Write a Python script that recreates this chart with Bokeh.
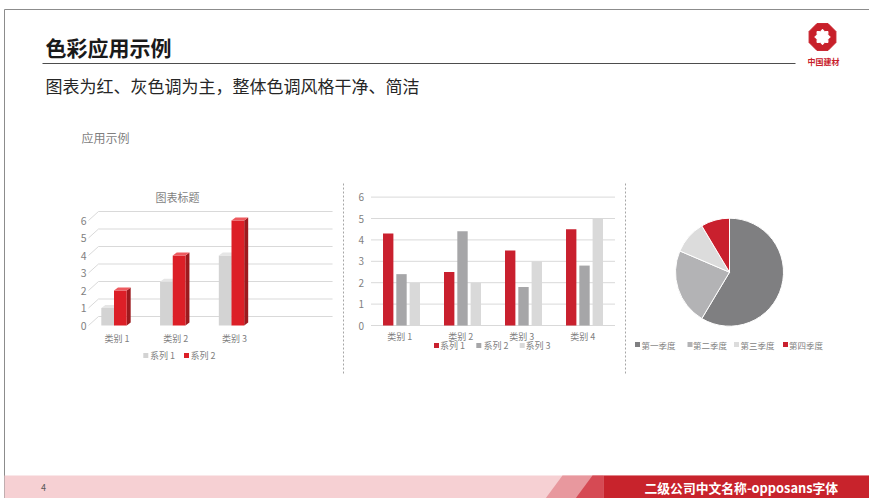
import numpy as np
from bokeh.plotting import figure
from bokeh.models import Range1d
from bokeh.core.properties import value
from bokeh.embed import file_html
from bokeh.resources import INLINE

# ---------------- data ----------------
title_text = "色彩应用示例"
subtitle_text = "图表为红、灰色调为主，整体色调风格干净、简洁"
section_label = "应用示例"
logo_text = "中国建材"
footer_text = "二级公司中文名称-opposans字体"
page_number = "4"

c1_title = "图表标题"
c1_categories = ["类别 1", "类别 2", "类别 3"]
c1_series_names = ["系列 1", "系列 2"]
c1_series1 = [1.0, 2.5, 4.0]
c1_series2 = [2.0, 4.0, 6.0]
c1_ticks = [0, 1, 2, 3, 4, 5, 6]

c2_categories = ["类别 1", "类别 2", "类别 3", "类别 4"]
c2_series_names = ["系列 1", "系列 2", "系列 3"]
c2_series1 = [4.3, 2.5, 3.5, 4.5]
c2_series2 = [2.4, 4.4, 1.8, 2.8]
c2_series3 = [2.0, 2.0, 3.0, 5.0]
c2_ticks = [0, 1, 2, 3, 4, 5, 6]

c3_labels = ["第一季度", "第二季度", "第三季度", "第四季度"]
c3_values = [8.2, 3.2, 1.4, 1.2]

# ---------------- style ----------------
FONT = value("Noto Sans CJK SC")
LABEL = "#7f7f7f"
GRID = "#d9d9d9"
RED = "#c9202e"
GRAY = "#a6a6a8"
LIGHT = "#d9d9d9"
PIE_COLORS = ["#7f7f81", "#b3b3b5", "#dcdcdc", "#c9202e"]

W, H = 869, 498
OX, OY = 0, 0


def bx(sx):
    return sx - OX


def by(sy):
    return sy - OY


def xr(sx0, k):
    s = -(sx0 - OX) / k
    return Range1d(s, s + W / k)


def yr(sy0, k):
    s = -(H - (sy0 - OY)) / k
    return Range1d(s, s + H / k)


p = figure(width=W, height=H, x_range=Range1d(0, W), y_range=Range1d(H, 0),
           output_backend="svg", toolbar_location=None, min_border=0,
           x_axis_location=None, y_axis_location=None, outline_line_color=None)
p.grid.visible = False
p.background_fill_color = "white"
p.border_fill_color = "white"

p.extra_x_ranges = {"c1x": xr(113.5, 58.75), "c2x": xr(401, 61), "c3x": xr(729, 54)}
p.extra_y_ranges = {"c1y": yr(325, 17.5), "c2y": yr(325, 21.4), "c3y": yr(271.7, 54)}
R1 = dict(x_range_name="c1x", y_range_name="c1y")
R2 = dict(x_range_name="c2x", y_range_name="c2y")
R3 = dict(x_range_name="c3x", y_range_name="c3y")

# ---------------- header / slide frame ----------------
p.segment(x0=[bx(4), bx(4)], y0=[by(9), by(9)], x1=[bx(869), bx(4)], y1=[by(9), by(498)],
          line_color="#8c8c8c", line_width=1)
p.text(x=[bx(45)], y=[by(46.5)], text=[title_text], text_font=FONT, text_font_size="21px",
       text_font_style="bold", text_color="#1a1a1a", text_baseline="middle", text_align="left")
p.segment(x0=[bx(42)], y0=[by(63)], x1=[bx(795)], y1=[by(63)], line_color="#4d4d4d", line_width=1)
p.text(x=[bx(45)], y=[by(85)], text=[subtitle_text], text_font=FONT, text_font_size="17px",
       text_color="#262626", text_baseline="middle", text_align="left")
p.text(x=[bx(81)], y=[by(136.5)], text=[section_label], text_font=FONT, text_font_size="12px",
       text_color=LABEL, text_baseline="middle", text_align="left")

# logo
cx, cy, r = bx(822), by(36.5), 14.5
ang = np.deg2rad(22.5 + 45 * np.arange(8))
p.patch(cx + r * np.cos(ang), cy - r * np.sin(ang), fill_color="#c8202a", line_color="#c8202a")
ang2 = np.deg2rad(90 + 22.5 * np.arange(16))
rad2 = np.where(np.arange(16) % 2 == 0, 7.8, 5.8)
p.patch(cx + rad2 * np.cos(ang2), cy - rad2 * np.sin(ang2), fill_color="white", line_color="white")
p.text(x=[bx(823)], y=[by(61)], text=[logo_text], text_font=FONT, text_font_size="8px",
       text_font_style="bold", text_color="#c8202a", text_baseline="middle", text_align="center")

# separators
p.segment(x0=[bx(343), bx(625)], y0=[by(183)] * 2, x1=[bx(343), bx(625)], y1=[by(375)] * 2,
          line_color="#a6a6a6", line_width=1, line_dash="2 2")

# ---------------- chart 1 (3D clustered columns) ----------------
gx0, gdx, gdy, gx1 = -0.434, 0.17, 0.514, 3.72
p.multi_line(xs=[[gx0, gx0 + gdx, gx1] for _ in c1_ticks],
             ys=[[v, v + gdy, v + gdy] for v in c1_ticks],
             line_color=GRID, line_width=1, **R1)

bw, ddx, ddy = 0.216, 0.068, 0.171


def bar3d(offset, vals, front, top, side):
    lefts = [i + offset for i in range(len(vals))]
    rights = [l + bw for l in lefts]
    p.patches(xs=[[rt, rt + ddx, rt + ddx, rt] for rt in rights],
              ys=[[0, ddy, v + ddy, v] for v in vals],
              fill_color=side, line_color=None, **R1)
    p.quad(left=lefts, right=rights, bottom=[0] * len(vals), top=vals,
           fill_color=front, line_color=None, **R1)
    p.patches(xs=[[l, rt, rt + ddx, l + ddx] for l, rt in zip(lefts, rights)],
              ys=[[v, v, v + ddy, v + ddy] for v in vals],
              fill_color=top, line_color=None, **R1)


bar3d(-bw, c1_series1, "#d3d3d3", "#e6e6e6", "#b9b9b9")
bar3d(0.0, c1_series2, "#dc1f27", "#ee5a5f", "#9c1a1e")

p.text(x=[gx0] * len(c1_ticks), y=c1_ticks, text=[str(t) for t in c1_ticks], x_offset=-2,
       text_font=FONT, text_font_size="10.5px", text_color=LABEL, text_align="right",
       text_baseline="middle", **R1)
p.text(x=[i + 0.05 for i in range(len(c1_categories))], y=[0] * len(c1_categories),
       text=c1_categories, y_offset=13, text_font=FONT, text_font_size="9px", text_color=LABEL,
       text_align="center", text_baseline="middle", **R1)
p.text(x=[bx(177)], y=[by(196)], text=[c1_title], text_font=FONT, text_font_size="11px",
       text_color=LABEL, text_align="center", text_baseline="middle")
# legend chart 1
p.scatter(x=[bx(145.3), bx(186)], y=[by(355)] * 2, marker="square", size=5,
          fill_color=["#d3d3d3", "#dc1f27"], line_color=None)
p.text(x=[bx(149.5), bx(190)], y=[by(355)] * 2, text=c1_series_names, text_font=FONT,
       text_font_size="9px", text_color=LABEL, text_align="left", text_baseline="middle")

# ---------------- chart 2 (clustered columns) ----------------
n2 = len(c2_categories)
p.segment(x0=[-0.5] * len(c2_ticks), y0=c2_ticks, x1=[n2 - 0.5] * len(c2_ticks), y1=c2_ticks,
          line_color=GRID, line_width=1, **R2)
for off, vals, col in zip([-0.218, 0.0, 0.218], [c2_series1, c2_series2, c2_series3], [RED, GRAY, LIGHT]):
    p.vbar(x=[i + off for i in range(n2)], width=0.17, bottom=0, top=vals,
           fill_color=col, line_color=None, **R2)
p.text(x=[-0.5] * len(c2_ticks), y=c2_ticks, text=[str(t) for t in c2_ticks], x_offset=-7,
       text_font=FONT, text_font_size="10px", text_color=LABEL, text_align="right",
       text_baseline="middle", **R2)
p.text(x=[i - 0.03 for i in range(n2)], y=[0] * n2, text=c2_categories, y_offset=11,
       text_font=FONT, text_font_size="9px", text_color=LABEL, text_align="center",
       text_baseline="middle", **R2)
p.scatter(x=[bx(436), bx(478.3), bx(521.7)], y=[by(345)] * 3, marker="square", size=5,
          fill_color=[RED, GRAY, LIGHT], line_color=None)
p.text(x=[bx(439.5), bx(483), bx(525)], y=[by(345)] * 3, text=c2_series_names, text_font=FONT,
       text_font_size="9px", text_color=LABEL, text_align="left", text_baseline="middle")

# ---------------- chart 3 (pie) ----------------
vals = np.array(c3_values, dtype=float)
cum = np.concatenate([[0.0], np.cumsum(vals)]) / vals.sum()
starts = np.pi / 2 - cum[:-1] * 2 * np.pi
ends = np.pi / 2 - cum[1:] * 2 * np.pi
p.wedge(x=[0] * len(vals), y=[0] * len(vals), radius=1, start_angle=list(starts),
        end_angle=list(ends), direction="clock", fill_color=PIE_COLORS,
        line_color="white", line_width=1, **R3)
p.scatter(x=[bx(637), bx(689.5), bx(736), bx(785)], y=[by(344)] * 4, marker="square", size=5,
          fill_color=PIE_COLORS, line_color=None)
p.text(x=[bx(641), bx(692.5), bx(740), bx(788.5)], y=[by(344)] * 4, text=c3_labels,
       text_font=FONT, text_font_size="8.5px", text_color=LABEL, text_align="left",
       text_baseline="middle")

# ---------------- footer ----------------
p.quad(left=[bx(4)], right=[bx(869)], top=[by(475)], bottom=[by(498)],
       fill_color="#f6d0d3", line_color=None)
p.patch([bx(545), bx(562), bx(603), bx(603)], [by(498), by(475), by(475), by(498)],
        fill_color="#e8989e", line_color=None)
p.patch([bx(575), bx(592), bx(603), bx(603)], [by(498), by(475), by(475), by(498)],
        fill_color="#d64a54", line_color=None)
p.quad(left=[bx(603)], right=[bx(869)], top=[by(475)], bottom=[by(498)],
       fill_color="#c8232c", line_color=None)
p.text(x=[bx(644)], y=[by(487)], text=[footer_text], text_font=FONT, text_font_size="12.8px",
       text_font_style="bold", text_color="white", text_align="left", text_baseline="middle")
p.text(x=[bx(43)], y=[by(487)], text=[page_number], text_font=FONT, text_font_size="9px",
       text_color="#595959", text_align="center", text_baseline="middle")

open("out.html", "w").write(file_html(p, INLINE))
